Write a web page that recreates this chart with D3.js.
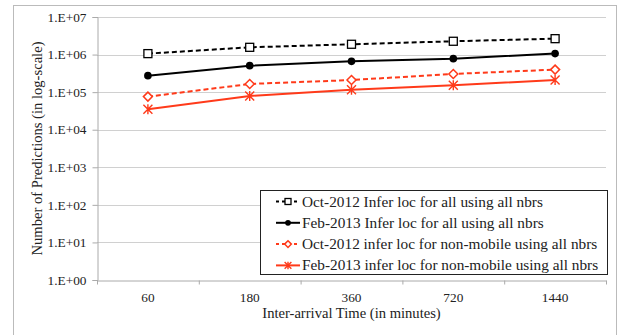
<!DOCTYPE html>
<meta charset="utf-8">
<title>Predictions vs inter-arrival time</title>
<style>
    body { margin: 0; background: #fff; }
    text { font-family: "Liberation Serif", "Times New Roman", serif; fill: #222; }
</style>
<body>
<script src="https://cdn.jsdelivr.net/npm/d3@7"></script>
<script>

    var categories = ["60", "180", "360", "720", "1440"];
    var yTicks = [1, 10, 100, 1e3, 1e4, 1e5, 1e6, 1e7];
    var seriesNames = [
        "Oct-2012 Infer loc for all using all nbrs",
        "Feb-2013 Infer loc for all using all nbrs",
        "Oct-2012 infer loc for non-mobile using all nbrs",
        "Feb-2013 infer loc for non-mobile using all nbrs"
    ];
    var octAll = [1.06e6, 1.56e6, 1.88e6, 2.26e6, 2.65e6];
    var febAll = [2.75e5, 5.07e5, 6.6e5, 7.8e5, 1.06e6];
    var octNonMobile = [7.6e4, 1.65e5, 2.1e5, 3.05e5, 3.98e5];
    var febNonMobile = [3.5e4, 7.9e4, 1.15e5, 1.52e5, 2.1e5];

    var red = "#ff3a1a";
    var series = [
        { name: seriesNames[0], values: octAll, color: "#000", dash: "5,3", marker: "square" },
        { name: seriesNames[1], values: febAll, color: "#000", dash: null, marker: "circle" },
        { name: seriesNames[2], values: octNonMobile, color: red, dash: "5,3", marker: "diamond" },
        { name: seriesNames[3], values: febNonMobile, color: red, dash: null, marker: "star" }
    ];

    var width = 618, height = 335;
    var plot = { left: 97, right: 606, top: 17, bottom: 280 };

    var svg = d3.select("body").append("svg")
        .attr("width", width)
        .attr("height", height);

    // outer chart frame
    svg.append("rect")
        .attr("x", 13.5).attr("y", 5.5)
        .attr("width", 603).attr("height", 340)
        .attr("fill", "none").attr("stroke", "#bbb");

    var x = d3.scaleBand().domain(categories).range([plot.left, plot.right]);
    var y = d3.scaleLog().domain([1, 1e7]).range([plot.bottom, plot.top]);

    // gridlines
    svg.append("g").selectAll("line")
        .data(yTicks.slice(1))
        .enter().append("line")
        .attr("x1", plot.left).attr("x2", plot.right)
        .attr("y1", function(d) { return Math.round(y(d)) + 0.5; })
        .attr("y2", function(d) { return Math.round(y(d)) + 0.5; })
        .attr("stroke", "#d0d0d0");

    var yAxis = svg.append("g")
        .attr("transform", "translate(" + (plot.left + 0.5) + ",0)")
        .call(d3.axisLeft(y).tickValues(yTicks).tickSize(5).tickPadding(6)
            .tickFormat(function(d) { return "1.E+" + d3.format("02d")(Math.round(Math.log10(d))); }));
    yAxis.select(".domain").attr("stroke", "#aaa");
    yAxis.selectAll(".tick line").attr("stroke", "#aaa");
    yAxis.selectAll("text").style("font-size", "13.3px").style("font-family", "Liberation Serif").attr("fill", "#222");

    var xAxis = svg.append("g")
        .attr("transform", "translate(0," + (plot.bottom + 0.5) + ")")
        .call(d3.axisBottom(x).tickSize(0).tickPadding(12));
    xAxis.select(".domain").attr("stroke", "#aaa");
    xAxis.selectAll("text").style("font-size", "13.3px").style("font-family", "Liberation Serif").attr("fill", "#222");
    // category boundary ticks
    xAxis.selectAll(".bound")
        .data(categories.concat(["end"]))
        .enter().append("line")
        .attr("class", "bound")
        .attr("x1", function(d, i) { return plot.left + i * x.bandwidth() + 0.5; })
        .attr("x2", function(d, i) { return plot.left + i * x.bandwidth() + 0.5; })
        .attr("y1", 0).attr("y2", 4)
        .attr("stroke", "#aaa");

    svg.append("text")
        .attr("x", (plot.left + plot.right) / 2).attr("y", 318)
        .attr("text-anchor", "middle")
        .style("font-size", "14.6px")
        .text("Inter-arrival Time (in minutes)");

    svg.append("text")
        .attr("transform", "translate(42," + ((plot.top + plot.bottom) / 2) + ") rotate(-90)")
        .attr("text-anchor", "middle")
        .style("font-size", "14.6px")
        .text("Number of Predictions (in log-scale)");

    var cx = function(i) { return x(categories[i]) + x.bandwidth() / 2; };

    var line = d3.line()
        .x(function(d, i) { return cx(i); })
        .y(function(d) { return y(d); });

    function drawMarker(g, type, color, k) {
        k = k || 1;
        if (type === "square") {
            g.append("rect").attr("x", -4 * k).attr("y", -4 * k).attr("width", 8 * k).attr("height", 8 * k)
                .attr("fill", "#fff").attr("stroke", color).attr("stroke-width", 1.3);
        } else if (type === "circle") {
            g.append("circle").attr("r", 3.8 * k).attr("fill", color);
        } else if (type === "diamond") {
            g.append("path").attr("d", "M0,-4.5L4.5,0L0,4.5L-4.5,0Z")
                .attr("transform", "scale(" + k + ")")
                .attr("fill", "#fff").attr("stroke", color).attr("stroke-width", 1.5 / k);
        } else {
            g.append("path").attr("d", "M-4.5,-4.5L4.5,4.5M-4.5,4.5L4.5,-4.5M0,-5L0,5")
                .attr("transform", "scale(" + k + ")")
                .attr("fill", "none").attr("stroke", color).attr("stroke-width", 1.4 / k);
        }
    }

    series.forEach(function(s) {
        svg.append("path")
            .datum(s.values)
            .attr("d", line)
            .attr("fill", "none")
            .attr("stroke", s.color)
            .attr("stroke-width", 2)
            .attr("stroke-dasharray", s.dash);
        s.values.forEach(function(v, i) {
            var g = svg.append("g").attr("transform", "translate(" + cx(i) + "," + y(v) + ")");
            drawMarker(g, s.marker, s.color);
        });
    });

    // legend
    var legend = svg.append("g");
    legend.append("rect")
        .attr("x", 260.5).attr("y", 190.5)
        .attr("width", 347).attr("height", 84)
        .attr("fill", "#fff").attr("stroke", "#222");

    series.forEach(function(s, i) {
        var ly = 201.5 + i * 21.3;
        legend.append("line")
            .attr("x1", 276).attr("x2", 300)
            .attr("y1", ly).attr("y2", ly)
            .attr("stroke", s.color).attr("stroke-width", 2)
            .attr("stroke-dasharray", s.dash ? "3,3" : null);
        var g = legend.append("g").attr("transform", "translate(288," + ly + ")");
        drawMarker(g, s.marker, s.color, 0.75);
        legend.append("text")
            .attr("x", 302).attr("y", ly + 5)
            .style("font-size", "15.3px")
            .text(s.name);
    });

</script>
</body>
